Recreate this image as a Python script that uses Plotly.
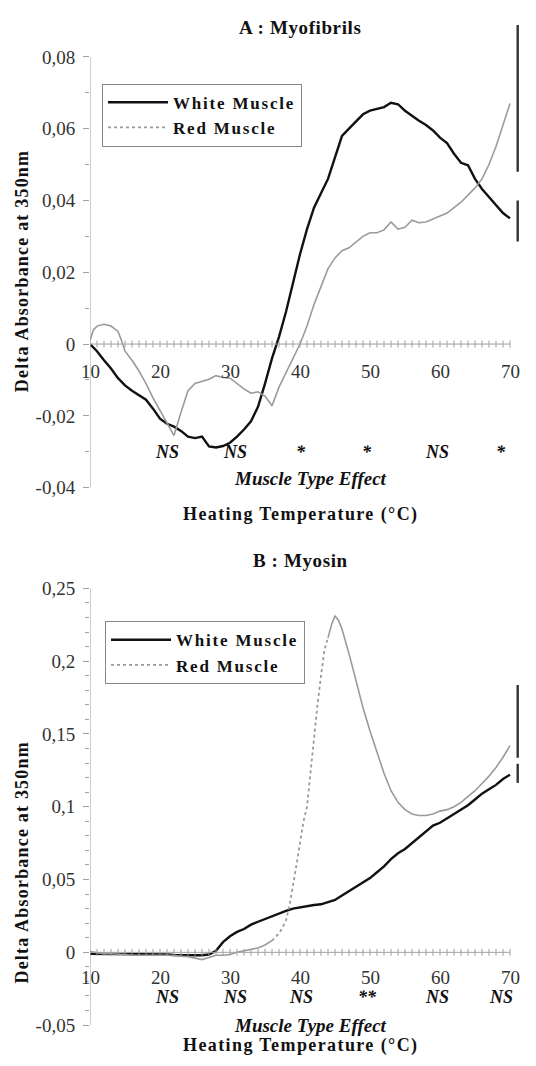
import plotly.graph_objects as go

# ---------------- data ----------------
# Panel A : Myofibrils
temps_white_A = list(range(10, 71))
white_A = [0, -0.002, -0.0045, -0.0068, -0.0095, -0.0115, -0.013, -0.0142, -0.0155, -0.018,
           -0.0208, -0.0222, -0.023, -0.0242, -0.0258, -0.0262, -0.0258, -0.0285, -0.0288, -0.0284,
           -0.0275, -0.0258, -0.0238, -0.0215, -0.0175, -0.011, -0.004, 0.002, 0.009, 0.017,
           0.025, 0.032, 0.038, 0.042, 0.046, 0.052, 0.058, 0.060, 0.062, 0.064,
           0.065, 0.0655, 0.066, 0.0672, 0.0668, 0.065, 0.0635, 0.0622, 0.061, 0.0595,
           0.0575, 0.056, 0.053, 0.0505, 0.0498, 0.046, 0.0432, 0.041, 0.0388, 0.0365,
           0.035]
temps_red_A = [10, 10.5, 11, 12, 13, 14, 14.5] + list(range(15, 71))
red_A = [0.001, 0.004, 0.005, 0.0055, 0.005, 0.0035, 0.001,
         -0.002, -0.0045, -0.0075, -0.011, -0.015, -0.0185, -0.022, -0.0255, -0.019, -0.013,
         -0.011, -0.0105, -0.0098, -0.0088, -0.0093, -0.0095, -0.011, -0.0125, -0.0137, -0.0133,
         -0.0145, -0.0172, -0.012, -0.008, -0.004, 0.0, 0.005, 0.011, 0.016, 0.021,
         0.024, 0.026, 0.0268, 0.0285, 0.030, 0.031, 0.031, 0.0318, 0.034, 0.032,
         0.0325, 0.0345, 0.0338, 0.034, 0.0348, 0.0355, 0.0365, 0.038, 0.0395, 0.0415,
         0.0435, 0.046, 0.050, 0.055, 0.061, 0.067]
errbars_A = [(0.048, 0.0889), (0.0286, 0.040)]
effect_A = ["NS", "NS", "*", "*", "NS", "*"]

# Panel B : Myosin
temps_white_B = list(range(10, 71))
white_B = [-0.001, -0.001, -0.001, -0.0012, -0.0012, -0.0015, -0.0012, -0.001, -0.0012, -0.0015,
           -0.0015, -0.0015, -0.0018, -0.002, -0.002, -0.002, -0.002, -0.0015, 0.001, 0.007,
           0.011, 0.014, 0.016, 0.019, 0.021, 0.023, 0.025, 0.027, 0.0285, 0.030,
           0.031, 0.032, 0.0325, 0.033, 0.0345, 0.036, 0.039, 0.042, 0.045, 0.048,
           0.051, 0.055, 0.059, 0.064, 0.068, 0.071, 0.075, 0.079, 0.083, 0.087,
           0.089, 0.092, 0.095, 0.098, 0.101, 0.105, 0.109, 0.112, 0.115, 0.119,
           0.122]
temps_red_B = (list(range(10, 37))
               + [37, 37.5, 38, 38.5, 39, 39.5, 40, 40.5, 41, 41.5, 42, 42.5, 43, 43.5,
                  44, 44.5, 45, 45.5, 46, 46.5, 47, 47.5, 48]
               + list(range(49, 71)))
red_B = [0.0005, -0.0005, -0.001, -0.001, -0.001, -0.0015, -0.002, -0.002, -0.002, -0.0018,
         -0.0015, -0.002, -0.0022, -0.0025, -0.003, -0.004, -0.005, -0.0035, -0.002, -0.002,
         -0.0015, 0.0, 0.001, 0.002, 0.003, 0.005, 0.008,
         0.013, 0.017, 0.022, 0.032, 0.045, 0.06, 0.075, 0.09, 0.10, 0.125, 0.15, 0.17, 0.19,
         0.208, 0.216, 0.225, 0.231, 0.228, 0.222, 0.214, 0.205, 0.196, 0.186,
         0.168, 0.152, 0.137, 0.123, 0.111, 0.103, 0.098, 0.095, 0.094, 0.094, 0.095,
         0.097, 0.098, 0.100, 0.103, 0.107, 0.111, 0.116, 0.121, 0.127, 0.134, 0.142]
errbars_B = [(0.1336, 0.1836), (0.1164, 0.1295)]
effect_B = ["NS", "NS", "NS", "**", "NS", "NS"]

effect_temps = [21, 30.7, 40.2, 49.6, 59.6, 68.7]
x_ticks = [10, 20, 30, 40, 50, 60, 70]
yticks_A = [-0.04, -0.02, 0, 0.02, 0.04, 0.06, 0.08]
yticklabels_A = ["-0,04", "-0,02", "0", "0,02", "0,04", "0,06", "0,08"]
yticks_B = [-0.05, 0, 0.05, 0.1, 0.15, 0.2, 0.25]
yticklabels_B = ["-0,05", "0", "0,05", "0,1", "0,15", "0,2", "0,25"]
err_temp = 71.1

# ---------------- styling ----------------
SERIF = "Liberation Serif"
BLACK = "#111111"
GRAY = "#9a9a9a"
AXIS = "#a0a0a0"
W, H = 536.0, 1066.0
ML, MR = 90, 12

fig = go.Figure()


def leg_name(s):
    return "<span style='letter-spacing:1.8px'><b>%s</b></span>" % s


def add_panel(xa, ya, tw, w, tr, r, errs, legend_name, dotted_range=None):
    fig.add_trace(go.Scatter(x=tw, y=w, mode="lines", xaxis=xa, yaxis=ya,
                             line=dict(color=BLACK, width=2.4), name=leg_name("White Muscle"),
                             legend=legend_name, legendgroup=legend_name + "w", showlegend=True))
    if dotted_range is None:
        fig.add_trace(go.Scatter(x=tr, y=r, mode="lines", xaxis=xa, yaxis=ya,
                                 line=dict(color=GRAY, width=1.6), showlegend=False))
    else:
        a, b = dotted_range
        ia = tr.index(a)
        ib = tr.index(b)
        fig.add_trace(go.Scatter(x=tr[:ia + 1], y=r[:ia + 1], mode="lines", xaxis=xa, yaxis=ya,
                                 line=dict(color=GRAY, width=1.6), showlegend=False))
        fig.add_trace(go.Scatter(x=tr[ia:ib + 1], y=r[ia:ib + 1], mode="lines", xaxis=xa, yaxis=ya,
                                 line=dict(color=GRAY, width=1.8, dash="dot"), showlegend=False))
        fig.add_trace(go.Scatter(x=tr[ib:], y=r[ib:], mode="lines", xaxis=xa, yaxis=ya,
                                 line=dict(color=GRAY, width=1.6), showlegend=False))
    fig.add_trace(go.Scatter(x=[None], y=[None], mode="lines", xaxis=xa, yaxis=ya,
                             line=dict(color=GRAY, width=1.6, dash="dot"), name=leg_name("Red Muscle"),
                             legend=legend_name, legendgroup=legend_name + "r", showlegend=True))
    for lo, hi in errs:
        fig.add_trace(go.Scatter(x=[err_temp, err_temp], y=[lo, hi], mode="lines",
                                 xaxis=xa, yaxis=ya, line=dict(color="#333333", width=2.4),
                                 showlegend=False, hoverinfo="skip"))
    fig.add_trace(go.Scatter(x=[10, 70], y=[0, 0], mode="lines", xaxis=xa, yaxis=ya,
                             line=dict(color=AXIS, width=1), showlegend=False, hoverinfo="skip"))
    fig.add_trace(go.Scatter(x=list(range(10, 71)), y=[0] * 61, mode="markers",
                             xaxis=xa, yaxis=ya,
                             marker=dict(symbol="line-ns", size=5, line=dict(color=AXIS, width=1)),
                             showlegend=False, hoverinfo="skip"))


add_panel("x", "y", temps_white_A, white_A, temps_red_A, red_A, errbars_A, "legend")
add_panel("x2", "y2", temps_white_B, white_B, temps_red_B, red_B, errbars_B, "legend2",
          dotted_range=(36, 44))


def px(xp, yp):
    return (xp - ML) / (W - ML - MR), 1 - yp / H


annotations = []
tick_font = dict(family=SERIF, size=19, color="#333333")
for xa, ya, shift in (("x", "y", -27), ("x2", "y2", -25)):
    for t in x_ticks:
        annotations.append(dict(x=t, y=0, xref=xa, yref=ya, text=str(t), showarrow=False,
                                yshift=shift, font=tick_font, xanchor="center", yanchor="middle"))

eff_font = dict(family=SERIF, size=18, color=BLACK)
for t, lab in zip(effect_temps, effect_A):
    annotations.append(dict(x=t, y=-0.0302, xref="x", yref="y", text="<b><i>%s</i></b>" % lab,
                            showarrow=False, font=eff_font, xanchor="center", yanchor="middle"))
for t, lab in zip(effect_temps, effect_B):
    annotations.append(dict(x=t, y=-0.031, xref="x2", yref="y2", text="<b><i>%s</i></b>" % lab,
                            showarrow=False, font=eff_font, xanchor="center", yanchor="middle"))

for text, (xp, yp) in (("A : Myofibrils", (300, 28)), ("B : Myosin", (300, 562))):
    x, y = px(xp, yp)
    annotations.append(dict(x=x, y=y, xref="paper", yref="paper",
                            text="<span style='letter-spacing:0.6px'><b>%s</b></span>" % text,
                            showarrow=False, xanchor="center", yanchor="middle",
                            font=dict(family=SERIF, size=19, color=BLACK)))
for yp in (480, 1028):
    x, y = px(310, yp)
    annotations.append(dict(x=x, y=y, xref="paper", yref="paper",
                            text="<b><i>Muscle Type Effect</i></b>", showarrow=False,
                            xanchor="center", yanchor="middle",
                            font=dict(family=SERIF, size=19, color=BLACK)))
for yp in (516, 1048):
    x, y = px(300, yp)
    annotations.append(dict(x=x, y=y, xref="paper", yref="paper",
                            text="<span style='letter-spacing:1.4px'><b>Heating Temperature (°C)</b></span>",
                            showarrow=False, xanchor="center", yanchor="middle",
                            font=dict(family=SERIF, size=18, color=BLACK)))
for yp in (272, 865):
    x, y = px(22, yp)
    annotations.append(dict(x=x, y=y, xref="paper", yref="paper",
                            text="<span style='letter-spacing:1.2px'><b>Delta Absorbance at 350nm</b></span>",
                            textangle=-90, showarrow=False, xanchor="center", yanchor="middle",
                            font=dict(family=SERIF, size=18, color=BLACK)))

shapes = [
    dict(type="line", xref="x", yref="y", x0=10, x1=10, y0=-0.04, y1=0.08,
         line=dict(color=AXIS, width=1)),
    dict(type="line", xref="x2", yref="y2", x0=10, x1=10, y0=-0.05, y1=0.25,
         line=dict(color=AXIS, width=1)),
]

minor_A = [round(-0.04 + 0.01 * i, 3) for i in range(13)]
minor_B = [round(-0.05 + 0.01 * i, 3) for i in range(31)]

xaxis_common = dict(range=[10, 72], showline=False, showgrid=False, zeroline=False,
                    showticklabels=False, ticks="")
yaxis_common = dict(showline=False, showgrid=False, zeroline=False, ticks="outside",
                    ticklen=6, tickcolor=AXIS, tickwidth=1, ticklabelstandoff=4,
                    tickfont=dict(family=SERIF, size=19, color="#333333"))

legend_common = dict(bgcolor="white", bordercolor="#888888", borderwidth=1,
                     font=dict(family=SERIF, size=17, color=BLACK),
                     xanchor="left", yanchor="top", traceorder="normal",
                     tracegroupgap=4, itemwidth=60)
lx1, ly1 = px(102, 84)
lx2, ly2 = px(105, 623)

fig.update_layout(
    width=536, height=1066,
    margin=dict(l=ML, r=MR, t=0, b=0),
    paper_bgcolor="white", plot_bgcolor="white",
    showlegend=True,
    xaxis=dict(domain=[0, 1], anchor="y", **xaxis_common),
    yaxis=dict(domain=[0.5345, 0.9786], range=[-0.042, 0.0895], anchor="x",
               tickvals=yticks_A, ticktext=yticklabels_A,
               minor=dict(tickvals=minor_A, ticks="outside", ticklen=4, tickcolor=AXIS),
               **yaxis_common),
    xaxis2=dict(domain=[0, 1], anchor="y2", **xaxis_common),
    yaxis2=dict(domain=[0.0288, 0.4602], range=[-0.055, 0.26], anchor="x2",
                tickvals=yticks_B, ticktext=yticklabels_B,
                minor=dict(tickvals=minor_B, ticks="outside", ticklen=4, tickcolor=AXIS),
                **yaxis_common),
    legend=dict(x=lx1, y=ly1, xref="paper", yref="paper", **legend_common),
    legend2=dict(x=lx2, y=ly2, xref="paper", yref="paper", **legend_common),
    annotations=annotations,
    shapes=shapes,
)

fig.write_html("out.html", post_script="document.body.style.margin='0px';",
               config={"displayModeBar": False})
